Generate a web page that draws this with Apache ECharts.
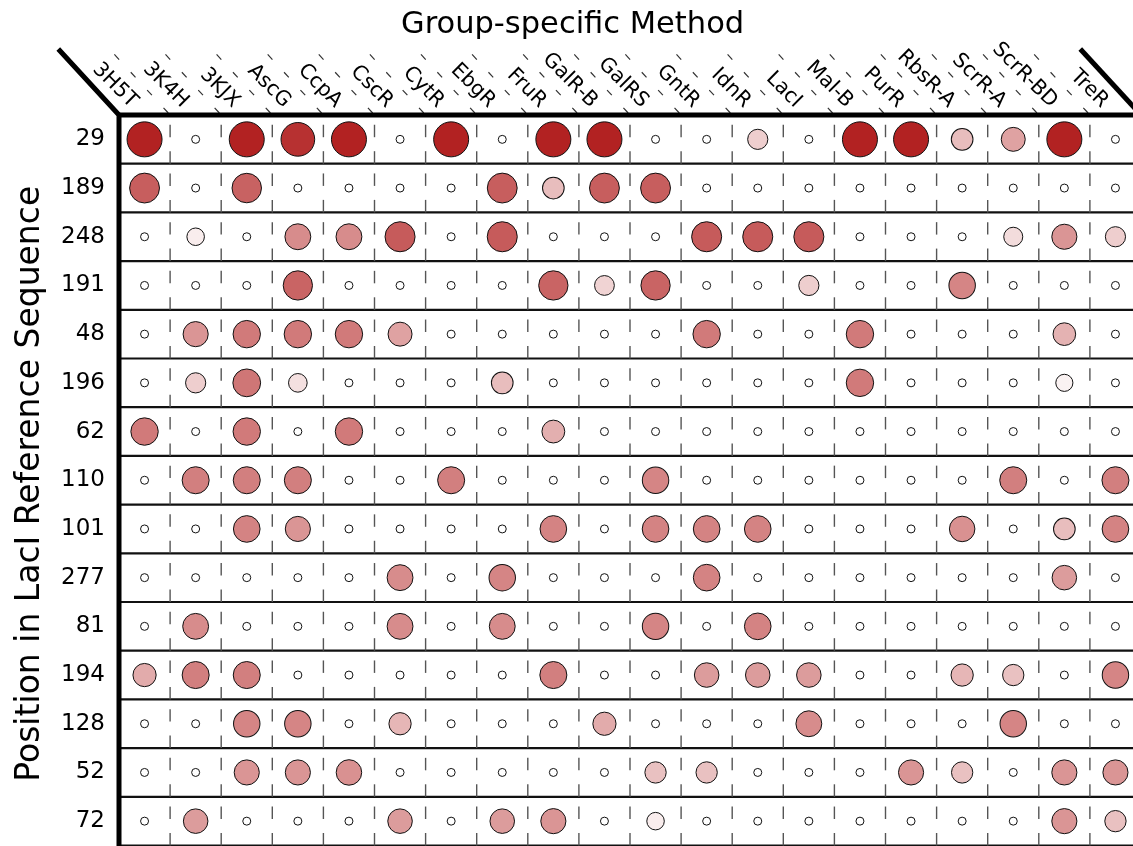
<!DOCTYPE html>
<html>
<head>
<meta charset="utf-8">
<script src="https://cdn.jsdelivr.net/npm/echarts@6/dist/echarts.min.js"></script>
<style>
html, body { margin: 0; padding: 0; background: #ffffff; }
#chart { width: 1133px; height: 846px; }
</style>
</head>
<body>
<div id="chart"></div>
<script>
// ---- categories ----
const methods = ['3H5T', '3K4H', '3KJX', 'AscG', 'CcpA', 'CscR', 'CytR', 'EbgR', 'FruR', 'GalR-B',
                 'GalRS', 'GntR', 'IdnR', 'LacI', 'Mal-B', 'PurR', 'RbsR-A', 'ScrR-A', 'ScrR-BD', 'TreR'];
const positions = ['29', '189', '248', '191', '48', '196', '62', '110', '101', '277', '81', '194', '128', '52', '72'];

// ---- values per row (0 = no hit), same order as methods ----
const p29  = [1.00, 0, 1.00, 0.93, 1.00, 0, 1.00, 0, 1.00, 1.00, 0, 0, 0.22, 0, 1.00, 1.00, 0.30, 0.42, 1.00, 0];
const p189 = [0.73, 0, 0.71, 0, 0, 0, 0, 0.73, 0.30, 0.73, 0.73, 0, 0, 0, 0, 0, 0, 0, 0, 0];
const p248 = [0, 0.08, 0, 0.52, 0.52, 0.74, 0, 0.74, 0, 0, 0, 0.74, 0.74, 0.74, 0, 0, 0, 0.16, 0.48, 0.22];
const p191 = [0, 0, 0, 0.70, 0, 0, 0, 0, 0.70, 0.20, 0.70, 0, 0, 0.22, 0, 0, 0.55, 0, 0, 0];
const p48  = [0, 0.48, 0.60, 0.60, 0.60, 0.42, 0, 0, 0, 0, 0, 0.60, 0, 0, 0.60, 0, 0, 0, 0.35, 0];
const p196 = [0, 0.22, 0.62, 0.14, 0, 0, 0, 0.30, 0, 0, 0, 0, 0, 0, 0.60, 0, 0, 0, 0.06, 0];
const p62  = [0.60, 0, 0.60, 0, 0.60, 0, 0, 0, 0.36, 0, 0, 0, 0, 0, 0, 0, 0, 0, 0, 0];
const p110 = [0, 0.58, 0.58, 0.58, 0, 0, 0.58, 0, 0, 0, 0.55, 0, 0, 0, 0, 0, 0, 0.58, 0, 0.58];
const p101 = [0, 0, 0.56, 0.48, 0, 0, 0, 0, 0.56, 0, 0.56, 0.56, 0.56, 0, 0, 0, 0.50, 0, 0.30, 0.56];
const p277 = [0, 0, 0, 0, 0, 0.52, 0, 0.55, 0, 0, 0, 0.56, 0, 0, 0, 0, 0, 0, 0.45, 0];
const p81  = [0, 0.52, 0, 0, 0, 0.52, 0, 0.52, 0, 0, 0.55, 0, 0.56, 0, 0, 0, 0, 0, 0, 0];
const p194 = [0.38, 0.58, 0.58, 0, 0, 0, 0, 0, 0.58, 0, 0, 0.45, 0.45, 0.45, 0, 0, 0.33, 0.28, 0, 0.55];
const p128 = [0, 0, 0.55, 0.55, 0, 0.33, 0, 0, 0, 0.38, 0, 0, 0, 0.52, 0, 0, 0, 0.55, 0, 0];
const p52  = [0, 0, 0.48, 0.48, 0.50, 0, 0, 0, 0, 0, 0.28, 0.28, 0, 0, 0, 0.48, 0.28, 0, 0.48, 0.48];
const p72  = [0, 0.45, 0, 0, 0, 0.45, 0, 0.45, 0.48, 0, 0.08, 0, 0, 0, 0, 0, 0, 0, 0.48, 0.28];

const rowValues = [p29, p189, p248, p191, p48, p196, p62, p110, p101, p277, p81, p194, p128, p52, p72];

const scatterData = [];
rowValues.forEach(function (vals, r) {
  vals.forEach(function (v, c) { scatterData.push([c, r, v]); });
});

const FONT = '"DejaVu Sans", Verdana, sans-serif';
const SLANT = 0.92;     // horizontal shift per vertical pixel of skewed header lines
const HEADER_H = 66;    // header height in px

function valueColor(v) {
  const r = Math.round(255 + (178 - 255) * v);
  const g = Math.round(255 + (34 - 255) * v);
  return 'rgb(' + r + ',' + g + ',' + g + ')';
}
function valueSize(v) { return v > 0 ? 16 + 19 * v : 8; }

function renderFrame(params, api) {
  const c0 = api.coord([0, 0]);
  const band = api.size([1, 1]);
  const bw = band[0], bh = band[1];
  const left = c0[0] - bw / 2, top = c0[1] - bh / 2;
  const nC = methods.length, nR = positions.length;
  const right = left + nC * bw, bottom = top + nR * bh;
  const ch = [];
  // row separators
  for (let k = 1; k <= nR; k++) {
    ch.push({ type: 'line', shape: { x1: left, y1: top + k * bh, x2: right + 5, y2: top + k * bh },
      style: { stroke: '#111', lineWidth: 2.2 } });
  }
  // dashed column separators inside the table (two dashes per row)
  for (let k = 1; k < nC; k++) {
    const x = left + k * bw;
    for (let r = 0; r < nR; r++) {
      const y0 = top + r * bh;
      ch.push({ type: 'line', shape: { x1: x, y1: y0 + 0.2 * bh, x2: x, y2: y0 + 0.456 * bh },
        style: { stroke: '#555', lineWidth: 1.4 } });
      ch.push({ type: 'line', shape: { x1: x, y1: y0 + 0.743 * bh, x2: x, y2: y0 + bh },
        style: { stroke: '#555', lineWidth: 1.4 } });
    }
  }
  // skewed dashed header separators
  for (let k = 1; k < nC; k++) {
    const x = left + k * bw;
    ch.push({ type: 'line', shape: { x1: x, y1: top, x2: x - SLANT * HEADER_H, y2: top - HEADER_H },
      style: { stroke: '#333', lineWidth: 1.2, lineDash: [7, 17.2], lineDashOffset: 21.5 } });
  }
  // thick borders
  ch.push({ type: 'polyline', shape: { points: [[left - SLANT * HEADER_H, top - HEADER_H], [left, top], [left, bottom + 3]] },
    style: { stroke: '#000', lineWidth: 5, fill: null, lineJoin: 'miter' } });
  ch.push({ type: 'polyline', shape: { points: [[right - SLANT * HEADER_H, top - HEADER_H], [right, top]] },
    style: { stroke: '#000', lineWidth: 5, fill: null } });
  ch.push({ type: 'line', shape: { x1: left - 2, y1: top, x2: right + 5, y2: top },
    style: { stroke: '#000', lineWidth: 5 } });
  // column labels
  for (let i = 0; i < nC; i++) {
    const cx = left + (i + 0.5) * bw;
    ch.push({ type: 'text', x: cx - 10.5, y: top - 10.5, rotation: -Math.PI / 4,
      style: { text: methods[i], fontSize: 20.5, fontFamily: FONT, fill: '#000', align: 'right', verticalAlign: 'middle' } });
  }
  return { type: 'group', children: ch };
}

const chart = echarts.init(document.getElementById('chart'), null, { renderer: 'canvas' });
chart.setOption({
  animation: false,
  backgroundColor: '#ffffff',
  title: {
    text: 'Group-specific Method',
    left: 396, top: 5,
    textStyle: { fontSize: 30.5, fontWeight: 'normal', color: '#000', fontFamily: FONT }
  },
  grid: { left: 119, top: 115, width: 1022, height: 730.5, outerBoundsMode: 'none', containLabel: false },
  xAxis: {
    type: 'category', data: methods, position: 'top',
    axisLine: { show: false }, axisTick: { show: false }, axisLabel: { show: false }, splitLine: { show: false }
  },
  yAxis: {
    type: 'category', data: positions, inverse: true,
    axisLine: { show: false }, axisTick: { show: false }, splitLine: { show: false },
    axisLabel: { fontSize: 23, color: '#000', fontFamily: FONT, margin: 14 },
    name: 'Position in LacI Reference Sequence', nameLocation: 'middle', nameGap: 72, nameRotate: 90,
    nameTextStyle: { fontSize: 33, color: '#000', fontFamily: FONT, padding: [0, 7, 0, 0] }
  },
  series: [
    {
      type: 'custom', name: 'frame', coordinateSystem: 'cartesian2d', silent: true, clip: false, z: 1,
      data: [[0, 0]], renderItem: renderFrame
    },
    {
      type: 'scatter', name: 'hits', data: scatterData, symbol: 'circle', z: 3,
      symbolSize: function (d) { return valueSize(d[2]); },
      itemStyle: { color: function (p) { return valueColor(p.data[2]); }, borderColor: '#111', borderWidth: 1, opacity: 1 },
      emphasis: { disabled: true }
    }
  ]
});
</script>
</body>
</html>
